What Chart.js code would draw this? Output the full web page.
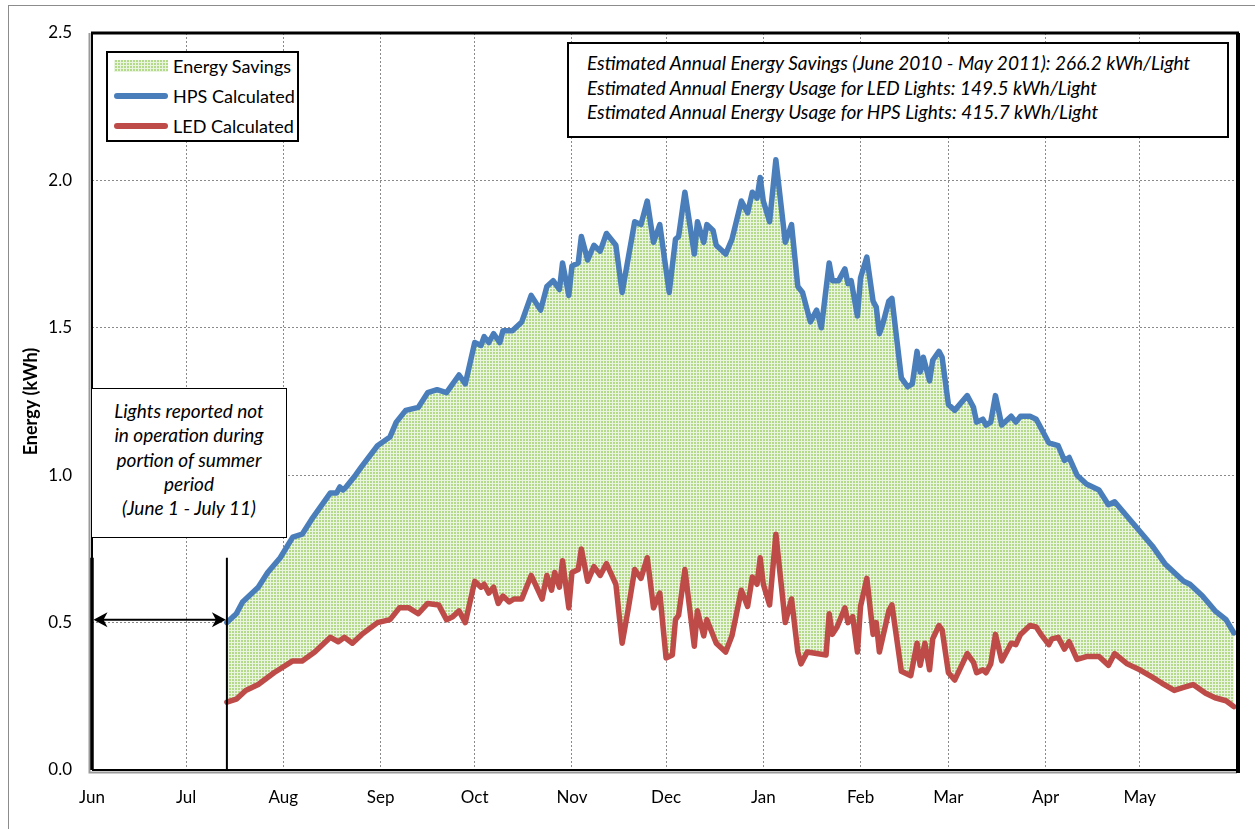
<!DOCTYPE html>
<html>
<head>
<meta charset="utf-8">
<script src="https://cdn.jsdelivr.net/npm/chart.js@4.4.0/dist/chart.umd.min.js"></script>
<style>
html,body{margin:0;padding:0;background:#fff;}
#wrap{position:relative;width:1255px;height:829px;overflow:hidden;font-family:Lato,"Open Sans",sans-serif;color:#000;}
#frame{position:absolute;left:8px;top:5px;width:1300px;height:900px;border-top:1.5px solid #8c8c8c;border-left:1.5px solid #8c8c8c;}
#c{position:absolute;left:0;top:0;}
.box{position:absolute;background:#fff;border:2px solid #000;box-sizing:border-box;}
#legend{left:106px;top:51px;width:193px;height:91px;padding-top:0;}
.lrow{height:30px;display:flex;align-items:center;font-size:18px;position:relative;top:-2px;}
.sw{width:54px;margin-left:6px;margin-right:5px;}
.sw.fill{height:12px;background:repeating-linear-gradient(0deg,#eaf5df 0 1px,transparent 1px 3px),repeating-linear-gradient(90deg,#eaf5df 0 1px,#b5d98a 1px 3px);}
.sw.line{height:5.5px;border-radius:3px;}
#stats{left:567px;top:42px;width:662px;height:96px;padding:7px 0 0 18px;font-style:italic;font-size:19px;line-height:24.5px;white-space:nowrap;}
#note{left:91px;top:388px;width:196px;height:150px;border-width:1.5px;padding-top:10px;text-align:center;font-style:italic;font-size:19px;line-height:24.3px;white-space:nowrap;}
</style>
</head>
<body>
<div id="wrap">
  <div id="frame"></div>
  <canvas id="c" width="1255" height="829"></canvas>
  <div class="box" id="legend"></div>
  <div class="box" id="stats"></div>
  <div class="box" id="note"></div>
</div>
<script>
// ---- data (x = days since June 1, 2010) ----
const monthTickDays = [0, 30, 61, 92, 122, 153, 183, 214, 245, 273, 304, 334];
const monthLabels = ['Jun', 'Jul', 'Aug', 'Sep', 'Oct', 'Nov', 'Dec', 'Jan', 'Feb', 'Mar', 'Apr', 'May'];
const yTickValues = [0, 0.5, 1.0, 1.5, 2.0, 2.5];

const hpsDays = [43,46,48,53,56,60,64,67,70,76,78,79,80,81,84,86,91,95,97,100,104,107,110,113,117,119,122,124,125,126.5,128,130,131,134,137,140,143,145,147,149,150,152,153,155,156,158,160,162,164,167,169,171,173,175,177,179,181,184,186,187,189,192,193,195,196,198,199,202,204,207,209,210.5,212,213,214,216,218,221,223,225,226.5,229,231,232.5,235,236,238,240,241,242,244,245,247,249,250,251,252,254,255,258,260,261.5,263,264,265,267,268,270,271,273,275,279,281,282,284,285,286.5,288,290,293,294.5,296,299,301,303,305,308,310,311.5,314,317,321,324,326,330,334,338,342,346,348,350,354,358,361.5,364];
const hpsValues = [0.50,0.53,0.57,0.62,0.67,0.72,0.79,0.80,0.85,0.94,0.94,0.96,0.95,0.96,1.00,1.03,1.10,1.13,1.18,1.22,1.23,1.28,1.29,1.28,1.34,1.31,1.45,1.44,1.47,1.45,1.48,1.45,1.49,1.49,1.52,1.61,1.56,1.64,1.66,1.63,1.72,1.61,1.71,1.72,1.81,1.73,1.78,1.76,1.82,1.78,1.62,1.74,1.86,1.85,1.93,1.79,1.85,1.62,1.80,1.81,1.96,1.75,1.86,1.79,1.85,1.83,1.78,1.75,1.80,1.93,1.89,1.96,1.94,2.01,1.93,1.86,2.07,1.79,1.85,1.64,1.62,1.52,1.56,1.50,1.72,1.66,1.66,1.70,1.65,1.66,1.54,1.67,1.74,1.59,1.57,1.48,1.51,1.59,1.60,1.33,1.30,1.31,1.42,1.35,1.40,1.32,1.39,1.42,1.40,1.24,1.22,1.27,1.23,1.18,1.19,1.17,1.18,1.27,1.17,1.20,1.18,1.20,1.20,1.19,1.15,1.11,1.10,1.05,1.06,1.00,0.97,0.95,0.90,0.91,0.86,0.81,0.76,0.70,0.66,0.64,0.63,0.59,0.54,0.51,0.465];

const ledDays = [43,46,49,53,58,64,67,71,76,78.5,80.5,83,86,91,95,98,101,104,107,110.5,113,115,117,119,122,124,125,126.5,128,129.5,131,133,134.5,137,140,143.5,145,146.5,147.5,149,150,152,153,155,156,158,160,162,164,167,169,171,173,175,177,179,181,183,185,186,187,189,192,193,195,196,199,202,204,207,209,210.5,212,213,214,216,218,221,223,225,226,228,231,234,235,236,237.5,240,241,242.5,244,245,247,249,250,251,254,255,258,261,263,264,265.5,267,268,270,271,273,275,279,281,282,284,285,286.5,288,290,293,294.5,296,299,301,302.5,305,306,308,310,311.5,314,317,321,324,326,330,334,338,341,345,348,351,355,358,361.5,364];
const ledValues = [0.23,0.24,0.27,0.29,0.33,0.37,0.37,0.40,0.45,0.435,0.45,0.43,0.46,0.50,0.51,0.55,0.55,0.53,0.565,0.56,0.51,0.52,0.54,0.50,0.64,0.62,0.63,0.60,0.62,0.565,0.59,0.57,0.58,0.58,0.66,0.58,0.66,0.61,0.67,0.62,0.71,0.55,0.67,0.68,0.75,0.64,0.69,0.66,0.70,0.63,0.43,0.55,0.68,0.65,0.72,0.55,0.60,0.38,0.39,0.51,0.525,0.68,0.42,0.54,0.455,0.51,0.43,0.40,0.455,0.61,0.555,0.655,0.63,0.72,0.63,0.56,0.80,0.50,0.58,0.40,0.36,0.40,0.395,0.39,0.53,0.46,0.485,0.55,0.50,0.52,0.40,0.555,0.65,0.46,0.50,0.40,0.54,0.56,0.335,0.32,0.43,0.355,0.43,0.34,0.445,0.49,0.475,0.33,0.305,0.395,0.365,0.33,0.34,0.33,0.36,0.46,0.37,0.43,0.425,0.46,0.49,0.485,0.46,0.425,0.445,0.45,0.41,0.435,0.375,0.385,0.385,0.355,0.395,0.36,0.34,0.315,0.295,0.27,0.28,0.29,0.26,0.245,0.235,0.215];

const offPeriodDays = [0, 43];      // lights not in operation (June 1 - July 11)
const offMarkerTop = 0.72;          // height of the period markers
const offArrowLevel = 0.51;

const seriesNames = ['Energy Savings', 'HPS Calculated', 'LED Calculated'];
const statLines = [
  'Estimated Annual Energy Savings (June 2010 - May 2011): 266.2 kWh/Light',
  'Estimated Annual Energy Usage for LED Lights: 149.5 kWh/Light',
  'Estimated Annual Energy Usage for HPS Lights: 415.7 kWh/Light'
];
const noteLines = ['Lights reported not', 'in operation during', 'portion of summer', 'period', '(June 1 - July 11)'];

// ---- styles ----
const HPS_COLOR = '#4a7ebb';
const LED_COLOR = '#be4b48';
const FONT = 'Lato, "Open Sans", sans-serif';

function makePattern() {
  const t = document.createElement('canvas');
  t.width = 3; t.height = 3;
  const g = t.getContext('2d');
  g.fillStyle = '#b5d98a'; g.fillRect(0, 0, 3, 3);
  g.fillStyle = '#eaf5df'; g.fillRect(0, 0, 3, 1); g.fillRect(0, 0, 1, 3);
  return g.createPattern(t, 'repeat');
}

const hpsPts = hpsDays.map((d, i) => ({x: d, y: hpsValues[i]}));
const ledPts = ledDays.map((d, i) => ({x: d, y: ledValues[i]}));

// ---- HTML legend and notes ----
const legendEl = document.getElementById('legend');
const swClass = ['fill', 'line', 'line'];
const swColor = [null, HPS_COLOR, LED_COLOR];
seriesNames.forEach((n, i) => {
  const row = document.createElement('div'); row.className = 'lrow';
  const sw = document.createElement('div'); sw.className = 'sw ' + swClass[i];
  if (swColor[i]) sw.style.background = swColor[i];
  const tx = document.createElement('span'); tx.textContent = n;
  row.appendChild(sw); row.appendChild(tx); legendEl.appendChild(row);
});
document.getElementById('stats').innerHTML = statLines.map(s => '<div>' + s + '</div>').join('');
document.getElementById('note').innerHTML = noteLines.map(s => '<div>' + s + '</div>').join('');

// ---- plugins ----
const framePlugin = {
  id: 'frame',
  afterDraw(chart) {
    const {ctx, chartArea: a, scales: {x, y}} = chart;
    ctx.save();
    // plot frame
    ctx.strokeStyle = '#9a9a9a'; ctx.lineWidth = 2;
    ctx.beginPath(); ctx.moveTo(a.left - 2.5, a.top); ctx.lineTo(a.left - 2.5, a.bottom + 2.5); ctx.lineTo(a.right, a.bottom + 2.5); ctx.stroke();
    ctx.strokeStyle = '#000'; ctx.lineWidth = 2;
    ctx.beginPath(); ctx.moveTo(a.left, a.bottom); ctx.lineTo(a.right, a.bottom); ctx.stroke();
    ctx.beginPath(); ctx.moveTo(a.left, a.top); ctx.lineTo(a.left, a.bottom); ctx.stroke();
    ctx.lineWidth = 3;
    ctx.beginPath(); ctx.moveTo(a.left - 1, a.top); ctx.lineTo(a.right + 2, a.top); ctx.stroke();
    ctx.lineWidth = 4;
    ctx.beginPath(); ctx.moveTo(a.right + 1, a.top); ctx.lineTo(a.right + 1, a.bottom + 3); ctx.stroke();
    // off period markers
    const yTop = y.getPixelForValue(offMarkerTop), yBot = y.getPixelForValue(0);
    const x0 = x.getPixelForValue(offPeriodDays[0]), x1 = x.getPixelForValue(offPeriodDays[1]);
    ctx.lineWidth = 3.5;
    ctx.beginPath(); ctx.moveTo(x0, yTop); ctx.lineTo(x0, yBot); ctx.stroke();
    ctx.lineWidth = 2;
    ctx.beginPath(); ctx.moveTo(x1, yTop); ctx.lineTo(x1, yBot); ctx.stroke();
    const ya = y.getPixelForValue(offArrowLevel);
    ctx.lineWidth = 2;
    ctx.beginPath(); ctx.moveTo(x0 + 6, ya); ctx.lineTo(x1 - 6, ya); ctx.stroke();
    ctx.fillStyle = '#000';
    const head = (tx, dir) => {
      ctx.beginPath();
      ctx.moveTo(tx, ya);
      ctx.lineTo(tx + dir * 14, ya - 7.5);
      ctx.lineTo(tx + dir * 10, ya);
      ctx.lineTo(tx + dir * 14, ya + 7.5);
      ctx.closePath(); ctx.fill();
    };
    head(x0 + 1.5, 1); head(x1 - 1, -1);
    ctx.restore();
  }
};

const ctx = document.getElementById('c').getContext('2d');
const gridStyle = {color: '#8a8a8a', lineWidth: 1, drawTicks: false};
new Chart(ctx, {
  type: 'line',
  data: {
    datasets: [
      {label: seriesNames[0], data: hpsPts, borderWidth: 0, pointRadius: 0, backgroundColor: makePattern(), fill: 2, order: 3},
      {label: seriesNames[1], data: hpsPts, borderColor: HPS_COLOR, borderWidth: 5.5, pointRadius: 0, fill: false, borderJoinStyle: 'round', borderCapStyle: 'round', order: 1},
      {label: seriesNames[2], data: ledPts, borderColor: LED_COLOR, borderWidth: 5.5, pointRadius: 0, fill: false, borderJoinStyle: 'round', borderCapStyle: 'round', order: 2}
    ]
  },
  options: {
    responsive: false,
    animation: false,
    devicePixelRatio: 1,
    layout: {padding: {left: 0, top: 33, right: 18, bottom: 0}},
    plugins: {
      legend: {display: false},
      tooltip: {enabled: false},
      filler: {drawTime: 'beforeDatasetsDraw'}
    },
    elements: {line: {tension: 0}},
    scales: {
      x: {
        type: 'linear', min: 0, max: 365,
        afterBuildTicks: s => { s.ticks = monthTickDays.map(v => ({value: v})); },
        afterFit: s => { s.height = 59; },
        ticks: {
          autoSkip: false, maxRotation: 0, padding: 17, color: '#000',
          font: {family: FONT, size: 17},
          callback: v => monthLabels[monthTickDays.indexOf(v)]
        },
        grid: Object.assign({}, gridStyle),
        border: {display: false, dash: [2, 2]}
      },
      y: {
        min: 0, max: 2.5,
        afterBuildTicks: s => { s.ticks = yTickValues.map(v => ({value: v})); },
        afterFit: s => { s.width = 92; },
        ticks: {
          padding: 20, color: '#000',
          font: {family: FONT, size: 17},
          callback: v => v.toFixed(1)
        },
        grid: Object.assign({}, gridStyle),
        border: {display: false, dash: [2, 2]},
        title: {display: true, text: 'Energy (kWh)', color: '#000', font: {family: FONT, size: 18, weight: 'bold'}, padding: {top: 20, bottom: 0}}
      }
    }
  },
  plugins: [framePlugin]
});
</script>
</body>
</html>
